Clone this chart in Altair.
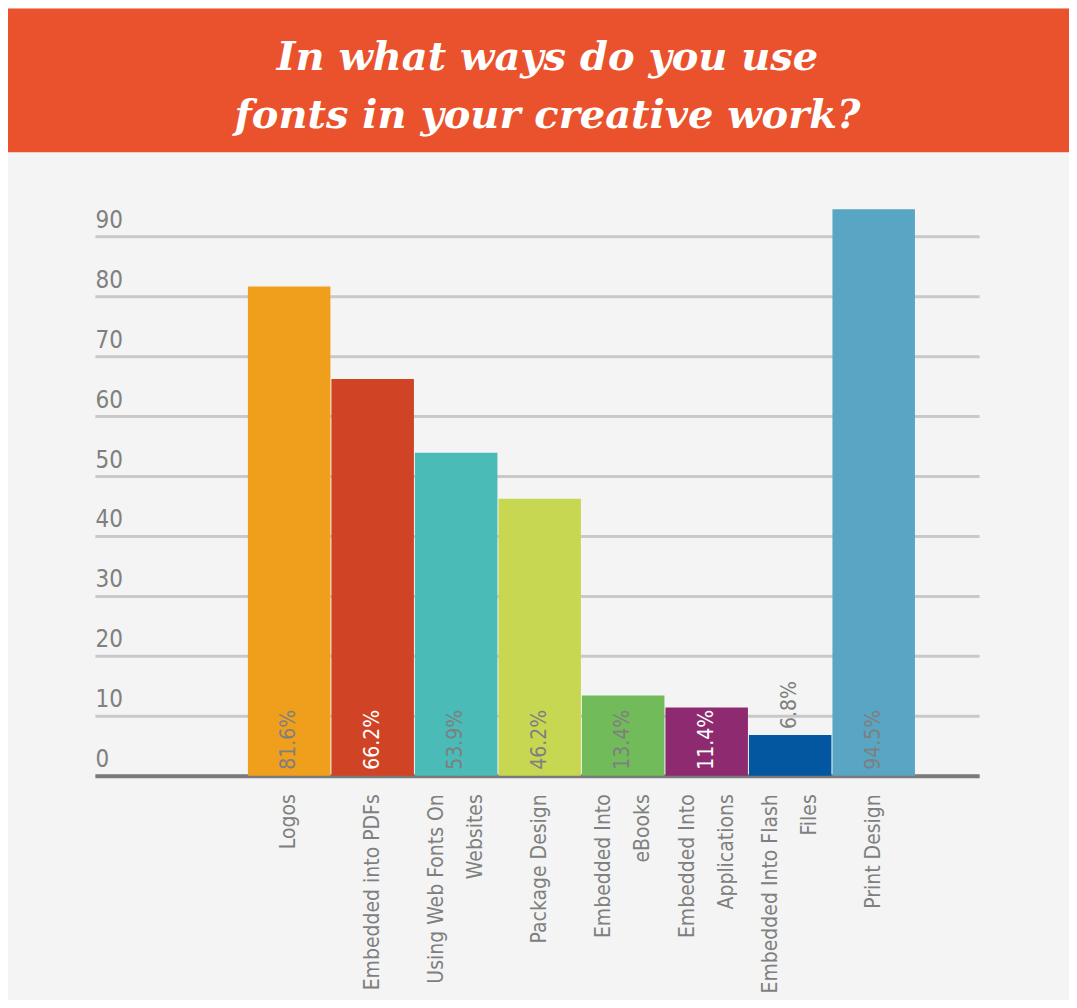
import altair as alt
import pandas as pd

# ---- data ----
categories = [
    "Logos",
    "Embedded into PDFs",
    "Using Web Fonts On|Websites",
    "Package Design",
    "Embedded Into|eBooks",
    "Embedded Into|Applications",
    "Embedded Into Flash|Files",
    "Print Design",
]
values = [81.6, 66.2, 53.9, 46.2, 13.4, 11.4, 6.8, 94.5]
value_labels = ["81.6%", "66.2%", "53.9%", "46.2%", "13.4%", "11.4%", "6.8%", "94.5%"]
y_ticks = [0, 10, 20, 30, 40, 50, 60, 70, 80, 90]
title_text = "In what ways do you use\nfonts in your creative work?"

# ---- style ----
bar_colors = ["#F09F1D", "#D04325", "#4ABBB7", "#C8D752", "#72BB5B",
              "#8E2B70", "#0357A0", "#58A6C3"]
white_label_cats = ["Embedded into PDFs", "Embedded Into|Applications"]
cond_font = "Liberation Sans Narrow, DejaVu Sans Condensed, Roboto, sans-serif"
title_font = "DejaVu Serif, Liberation Serif, serif"
bg = "#F3F4F3"
banner_color = "#E9522C"
# an empty slot on the left of the band scale leaves the blank area beside the y labels
x_domain = [" "] + categories

df = pd.DataFrame({"category": categories, "value": values, "label": value_labels})
title_df = pd.DataFrame({"title": [title_text]})

# title banner drawn above the plot area (decoration, not data)
banner_rect = alt.Chart(title_df).mark_rect(color=banner_color).encode(
    x=alt.value(-87), x2=alt.value(975), y=alt.value(-168), y2=alt.value(-24)
)
banner_text = alt.Chart(title_df).mark_text(
    font=title_font, fontSize=40, fontWeight="bold", fontStyle="italic",
    color="white", align="center", baseline="alphabetic",
    lineBreak="\n", lineHeight=58,
).encode(x=alt.value(453), y=alt.value(-106), text="title:N")

base = alt.Chart(df).encode(
    x=alt.X(
        "category:N", title=None,
        scale=alt.Scale(domain=x_domain, paddingInner=0.012, paddingOuter=0.8, align=0.52),
        axis=alt.Axis(
            labelAngle=-90, labelAlign="right", labelBaseline="middle",
            labelExpr="split(datum.label, '|')", labelLineHeight=39,
            labelOffset={"condition": {"test": "indexof(datum.value, '|') >= 0",
                                       "value": -19},
                         "value": 0},
            labelFont=cond_font, labelFontSize=21, labelColor="#7f7f7f",
            labelPadding=18, labelLimit=0, ticks=False, tickSize=0, grid=False,
            domainColor="#7a7a7a", domainWidth=4, minExtent=224,
        ),
    )
)

bars = base.mark_bar().encode(
    y=alt.Y(
        "value:Q", title=None, scale=alt.Scale(domain=[0, 100]),
        axis=alt.Axis(
            values=y_ticks, labelAlign="left", labelBaseline="alphabetic",
            labelOffset=-9, labelPadding=0, ticks=False, tickSize=0,
            domain=False, grid=True, gridColor="#C9C9C9", gridWidth=3,
            labelFont=cond_font, labelFontSize=24, labelColor="#808080",
            minExtent=87,
        ),
    ),
    color=alt.Color("category:N", scale=alt.Scale(domain=categories, range=bar_colors),
                    legend=None),
)

texts = (
    base.transform_calculate(pos="datum.value < 10 ? datum.value : 0")
    .mark_text(angle=270, align="left", baseline="middle", dx=6,
               font=cond_font, fontSize=21)
    .encode(
        y=alt.Y("pos:Q", title=None),
        text="label:N",
        color=alt.condition(
            alt.FieldOneOfPredicate(field="category", oneOf=white_label_cats),
            alt.value("white"), alt.value("#7f7f7f"),
        ),
    )
)

chart = (
    alt.layer(banner_rect, banner_text, bars, texts)
    .properties(width=885, height=600, background=bg, padding=0)
    .configure_view(stroke="transparent")
)

chart.save("out.html", embed_options={"renderer": "svg", "actions": False})
